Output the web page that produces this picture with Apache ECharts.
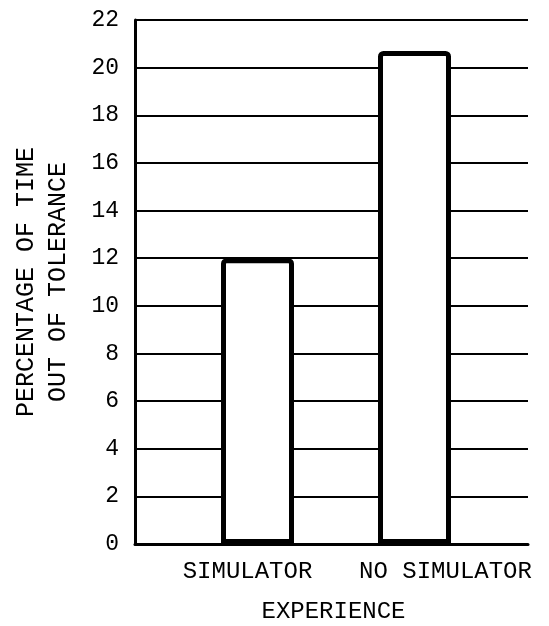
<!DOCTYPE html>
<html>
<head>
<meta charset="utf-8">
<script src="https://cdn.jsdelivr.net/npm/echarts@6/dist/echarts.min.js"></script>
<style>html,body{margin:0;padding:0;background:#fff;}#c{width:549px;height:626px;}</style>
</head>
<body>
<div id="c"></div>
<script>
const categories = ['SIMULATOR', 'NO SIMULATOR'];
const values = [12.0, 20.7];
const yMin = 0, yMax = 22, yStep = 2;
const yTitle = ['PERCENTAGE OF TIME', 'OUT OF TOLERANCE'];
const xTitle = 'EXPERIENCE';

const FONT = '"Liberation Mono", "DejaVu Sans Mono", monospace';
const chart = echarts.init(document.getElementById('c'), null, {renderer: 'canvas'});
const labelShift = [{padding: [0, 20, 0, 0]}, {padding: [0, 0, 0, 62]}];
chart.setOption({
  backgroundColor: '#fff',
  animation: false,
  grid: [
    {left: 135, right: 21, top: 20, bottom: 82, containLabel: false, outerBoundsMode: 'none'},
    {left: 179, right: 56, top: 20, bottom: 82, containLabel: false, outerBoundsMode: 'none'}
  ],
  xAxis: [
    {type: 'category', gridIndex: 0, data: [''], axisLine: {show: true, lineStyle: {color: '#000', width: 3}},
     axisTick: {show: false}, axisLabel: {show: false}, splitLine: {show: false},
     name: xTitle, nameLocation: 'middle', nameGap: 56,
     nameTextStyle: {fontFamily: FONT, fontSize: 24, color: '#000', padding: [0, 0, 0, 4]}},
    {type: 'category', gridIndex: 1, data: categories.map((c, i) => ({value: c, textStyle: labelShift[i]})),
     axisLine: {show: false}, axisTick: {show: false},
     axisLabel: {fontFamily: FONT, fontSize: 24, color: '#000', margin: 16, interval: 0}}
  ],
  yAxis: [
    {type: 'value', gridIndex: 0, min: yMin, max: yMax, interval: yStep,
     axisLine: {show: true, lineStyle: {color: '#000', width: 3}}, axisTick: {show: false},
     axisLabel: {fontFamily: FONT, fontSize: 23, color: '#000', margin: 16},
     splitLine: {show: true, lineStyle: {color: '#000', width: 2}},
     name: yTitle.join('\n'), nameLocation: 'middle', nameRotate: 90, nameGap: 61,
     nameTextStyle: {fontFamily: FONT, fontSize: 25, color: '#000', lineHeight: 32, align: 'center'}},
    {type: 'value', gridIndex: 1, min: yMin, max: yMax, interval: yStep, show: false}
  ],
  series: [{
    type: 'bar', xAxisIndex: 1, yAxisIndex: 1, data: values, barWidth: 73,
    itemStyle: {color: '#fff', borderColor: '#000', borderWidth: 5, borderRadius: [3, 3, 0, 0]},
    z: 5
  }]
});
</script>
</body>
</html>
